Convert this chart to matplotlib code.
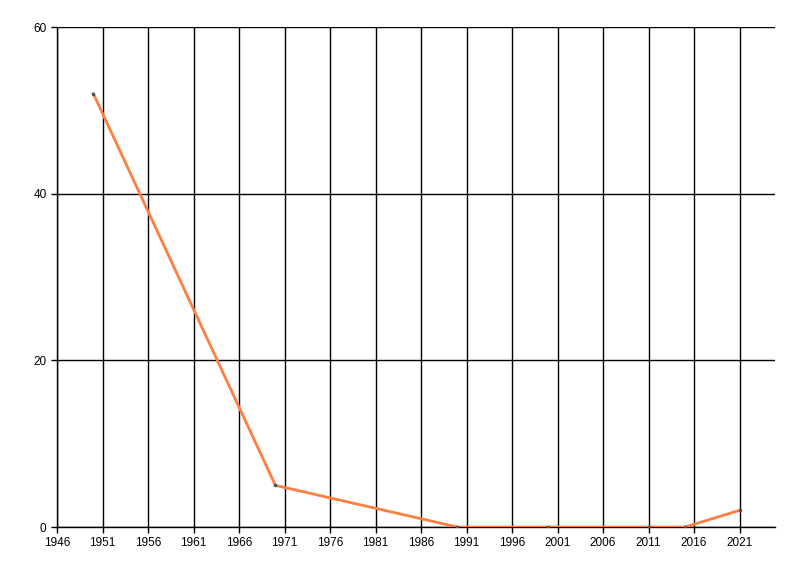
import matplotlib
matplotlib.use("Agg")
import matplotlib.pyplot as plt

years = [1950, 1970, 1990, 2000, 2011, 2015, 2021]
values = [52, 5, 0, 0, 0, 0, 2]
xticks = list(range(1946, 2022, 5))
yticks = [0, 20, 40, 60]

plt.rcParams['font.family'] = ['Liberation Sans', 'DejaVu Sans']
fig = plt.figure(figsize=(8, 5.76), dpi=100)
ax = fig.add_axes([0.07125, 0.085, 0.8975, 0.868])
ax.set_xlim(1946, 2024.9)
ax.set_ylim(0, 60)
ax.set_xticks(xticks)
ax.set_yticks(yticks)
ax.tick_params(labelsize=8.5, length=4, width=1, color='black')
for x in xticks:
    ax.axvline(x, color='black', lw=1, zorder=1)
for y in yticks:
    ax.axhline(y, color='black', lw=1, zorder=1)
ax.plot(years, values, color='#FF7F3F', lw=2, zorder=3,
        marker='s', markersize=2, markerfacecolor='#555555', markeredgecolor='#555555')
for s in ['top', 'right']:
    ax.spines[s].set_visible(False)
ax.spines['left'].set_linewidth(1)
ax.spines['bottom'].set_linewidth(1)
fig.savefig('out.png', dpi=100)
